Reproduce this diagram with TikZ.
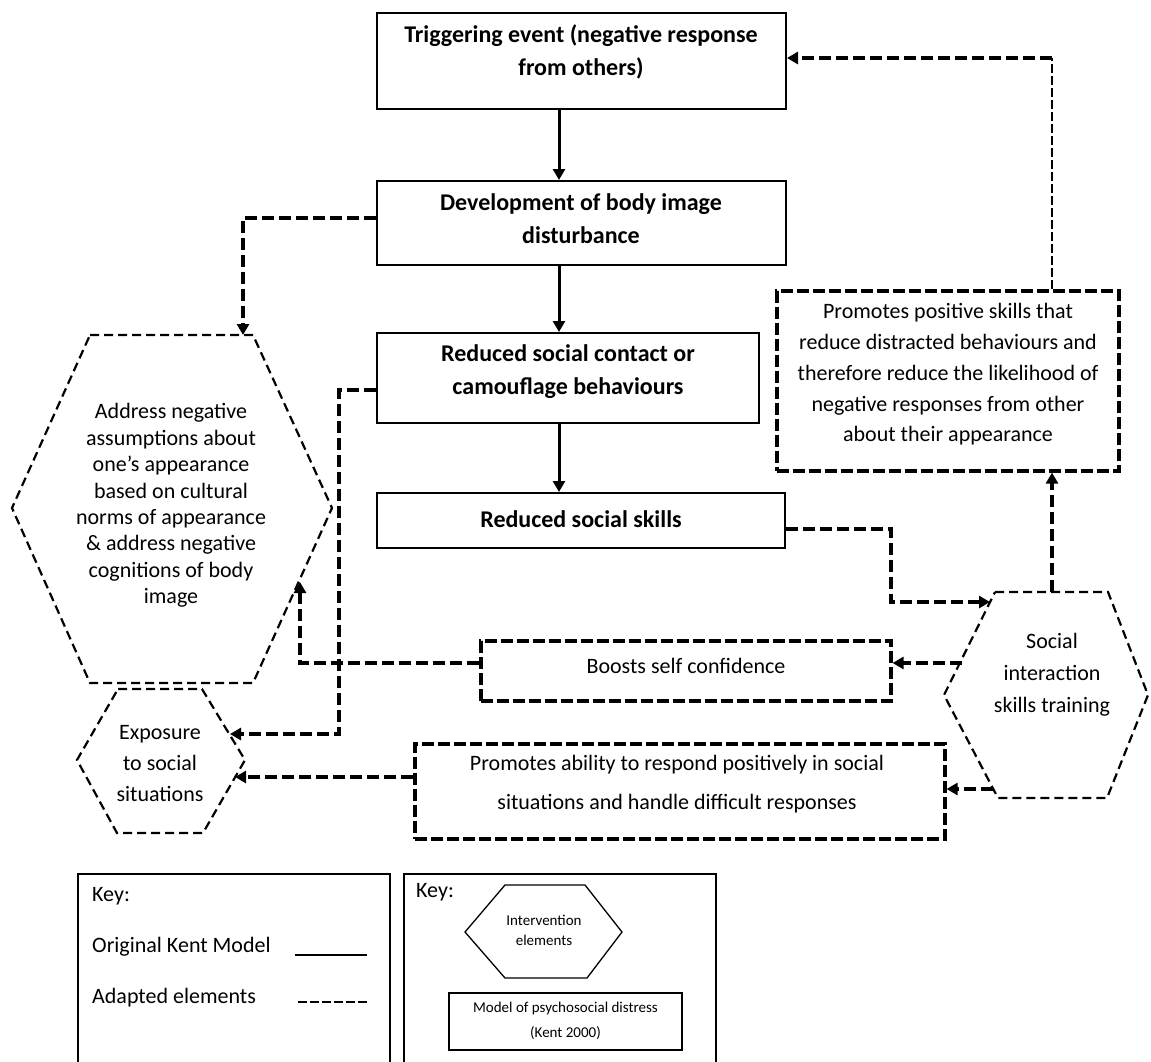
\documentclass[tikz,border=0pt]{standalone}
\usepackage{fontspec}
\setmainfont{Carlito}
\usetikzlibrary{arrows.meta}
\begin{document}
\begin{tikzpicture}[x=1pt,y=-1pt,
  sbox/.style={draw, line width=2pt, inner sep=0pt},
  dbox/.style={draw, line width=3.2pt, dash pattern=on 12pt off 4pt, inner sep=0pt},
  kbox/.style={draw, line width=1.6pt, inner sep=0pt},
  hexd/.style={line width=2.2pt, dash pattern=on 9pt off 5pt, line join=miter},
  conn/.style={line width=3.4pt, dash pattern=on 12pt off 5pt},
  thinconn/.style={line width=1.8pt, dash pattern=on 9pt off 3pt},
  tip/.style={-{Triangle[length=11pt,width=12pt]}},
  solidarr/.style={line width=3pt, -{Triangle[length=11pt,width=12pt]}},
  btext/.style={font=\fontsize{24}{33}\selectfont\bfseries, align=center, inner sep=0pt},
  ntext/.style={font=\fontsize{22}{#1}\selectfont, align=center, inner sep=0pt},
  ntext/.default=26,
  ktext/.style={font=\fontsize{22}{26}\selectfont, anchor=west, inner sep=0pt},
  stext/.style={font=\fontsize{15}{#1}\selectfont, align=center, inner sep=0pt},
  stext/.default=20,
]
\fill[white] (0,0) rectangle (1151,1061);
\useasboundingbox (0,0) rectangle (1151,1061);

% main model boxes
\node[sbox, minimum width=409pt, minimum height=96pt] (trig) at (581.5,61) {};
\node[sbox, minimum width=409pt, minimum height=84pt] (dev) at (581.5,223) {};
\node[sbox, minimum width=382pt, minimum height=90pt] (rsc) at (568,378) {};
\node[sbox, minimum width=408pt, minimum height=55pt] (rss) at (581,520.5) {};

\node[btext] (trigT) at (581,52) {Triggering event (negative response\\from others)};
\node[btext] (devT) at (581,219) {Development of body image\\disturbance};
\node[btext] (rscT) at (568,372) {Reduced social contact or\\camouflage behaviours};
\node[btext] (rssT) at (581,519) {Reduced social skills};

% adapted boxes
\node[dbox, minimum width=342pt, minimum height=180pt] (pps) at (948,381) {};
\node[dbox, minimum width=410pt, minimum height=60pt] (boost) at (686,671) {};
\node[dbox, minimum width=530pt, minimum height=95pt] (pab) at (680,791.5) {};

\node[ntext=30.7] (ppsT) at (948,374.5) {Promotes positive skills that\\reduce distracted behaviours and\\therefore reduce the likelihood of\\negative responses from other\\about their appearance};
\node[ntext] (boostT) at (686,666) {Boosts self confidence};
\node[ntext=39] (pabT) at (677,784.5) {Promotes ability to respond positively in social\\situations and handle difficult responses};

% hexagons (intervention elements)
\draw[hexd] (90,335) -- (253,335) -- (332,508) -- (253,683) -- (90,683) -- (12,508) -- cycle;
\node[ntext=26.4] (addrT) at (171,505.5) {Address negative\\assumptions about\\one’s appearance\\based on cultural\\norms of appearance\\\& address negative\\cognitions of body\\image};
\draw[hexd] (118,689) -- (202,689) -- (245,760) -- (203,833) -- (117,833) -- (77,760) -- cycle;
\node[ntext=31] (expoT) at (160,764) {Exposure\\to social\\situations};
\draw[hexd] (995,592) -- (1108,592) -- (1148,695) -- (1107,798) -- (998,798) -- (944,695) -- cycle;
\node[ntext=32] (sistT) at (1052,675) {Social\\interaction\\skills training};

\coordinate (addrTop) at (243,335);
\coordinate (addrR) at (300,582);
\coordinate (expoR1) at (230,734);
\coordinate (expoR2) at (235,777);
\coordinate (sistL1) at (990,602);
\coordinate (sistL2) at (962,663);
\coordinate (sistL3) at (993,789);
\coordinate (sistTop) at (1052,592);
\coordinate (corner) at (1052,58);
\coordinate (ax) at (559,0);

% solid arrows
\draw[solidarr] (trig.south -| ax) -- (dev.north -| ax);
\draw[solidarr] (dev.south -| ax) -- (rsc.north -| ax);
\draw[solidarr] (rsc.south -| ax) -- (rss.north -| ax);

% dashed connectors
\draw[conn, tip] ([yshift=5pt]dev.west) -| (addrTop);
\draw[conn, tip] ([yshift=-12pt]rsc.west) -- ++(-37,0) |- (expoR1);
\draw[conn, tip] ([yshift=8pt]boost.west) -| (addrR);
\draw[conn, tip] (pab.west |- expoR2) -- (expoR2);
\draw[conn, tip] ([yshift=-8.5pt]rss.east) -- ++(105,0) |- (sistL1);
\draw[conn, tip] (sistL2) -- (boost.east |- sistL2);
\draw[conn, tip] (sistL3) -- (pab.east |- sistL3);
\draw[conn, tip] (sistTop) -- (pps.south -| sistTop);
\draw[thinconn] (pps.north -| sistTop) -- (corner);
\draw[conn, tip] (corner) -- (trig.east |- corner);

% keys
\node[kbox, minimum width=312pt, minimum height=230pt, anchor=north west] (key1) at (77,873) {};
\node[kbox, minimum width=312pt, minimum height=230pt, anchor=north west] (key2) at (403,873) {};
\node[ktext] (k1T) at (92,896) {Key:};
\node[ktext] (k1a) at (92,947) {Original Kent Model};
\node[ktext] (k1b) at (92,998) {Adapted elements};
\coordinate (la1) at (295,955);
\coordinate (la2) at (367,955);
\coordinate (lb1) at (298,1002);
\coordinate (lb2) at (367,1002);
\draw[line width=1.4pt] (la1) -- (la2);
\draw[line width=1.4pt, dash pattern=on 9pt off 3pt] (lb1) -- (lb2);

\node[ktext] (k2T) at (416,892) {Key:};
\draw[line width=1.3pt] (505,885) -- (585,885) -- (622,932) -- (587,978) -- (505,978) -- (465,932) -- cycle;
\node[stext] (khT) at (544,930) {Intervention\\elements};
\node[kbox, minimum width=233pt, minimum height=57pt] (kmod) at (565.5,1021.5) {};
\node[stext=25] (kmodT) at (565.5,1020.5) {Model of psychosocial distress\\(Kent 2000)};
\end{tikzpicture}
\end{document}
